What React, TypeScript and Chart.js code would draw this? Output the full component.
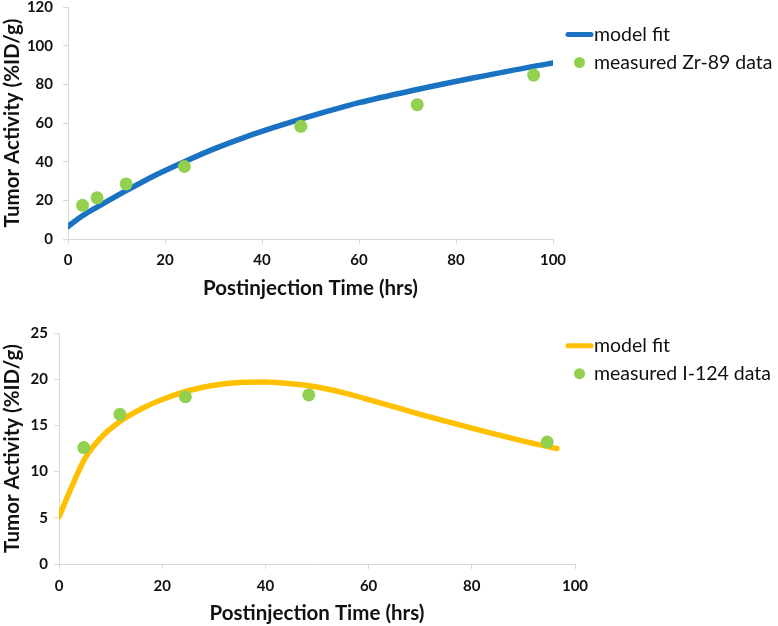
import React, { useEffect, useRef } from 'react';
import { Chart, registerables } from 'chart.js';

Chart.register(...registerables);

// ---------- data ----------
const X_TICKS = [0, 20, 40, 60, 80, 100];

const ZR_Y_TICKS = [0, 20, 40, 60, 80, 100, 120];
const ZR_TIMES = [3, 6, 12, 24, 48, 72, 96];
const ZR_MEASURED = [17.4, 21.3, 28.5, 37.5, 58.3, 69.5, 84.8];
const ZR_FIT_TIMES = [0, 3, 6, 12, 18, 24, 30, 36, 42, 48, 60, 72, 84, 96, 100];
const ZR_FIT_VALUES = [6.5, 12, 16.5, 25, 33, 40, 46.5, 52.2, 57.3, 62, 70.5, 77.3, 83.5, 89.3, 91];
const ZR_LEGEND = ['model fit', 'measured Zr-89 data'];

const I_Y_TICKS = [0, 5, 10, 15, 20, 25];
const I_TIMES = [4.8, 11.8, 24.5, 48.4, 94.6];
const I_MEASURED = [12.6, 16.2, 18.1, 18.3, 13.2];
const I_FIT_TIMES = [0, 2.5, 5, 8, 12, 16, 20, 25, 30, 35, 40, 45, 50, 55, 60, 70, 80, 90, 96.5];
const I_FIT_VALUES = [5.1, 8.4, 11.4, 13.6, 15.5, 16.8, 17.8, 18.75, 19.35, 19.65, 19.7, 19.5, 19.15, 18.55, 17.8, 16.2, 14.7, 13.3, 12.5];
const I_LEGEND = ['model fit', 'measured I-124 data'];

const X_TITLE = 'Postinjection Time (hrs)';
const Y_TITLE = 'Tumor Activity (%ID/g)';

// ---------- styles ----------
const GREEN = '#92D050';
const BLUE = '#1A72C2';
const GOLD = '#FFC000';
const AXIS = '#D9D9D9';
const FONT = 'Lato, "Open Sans", sans-serif';

const legendPlugin = {
  id: 'sideLegend',
  afterDraw(chart: any, _args: any, opts: any) {
    const ctx = chart.ctx as CanvasRenderingContext2D;
    const { x, y, gap, lineColor, dotColor, labels } = opts;
    ctx.save();
    ctx.strokeStyle = lineColor;
    ctx.lineWidth = 5;
    ctx.lineCap = 'round';
    ctx.beginPath();
    ctx.moveTo(x + 2, y);
    ctx.lineTo(x + 25, y);
    ctx.stroke();
    ctx.fillStyle = dotColor;
    ctx.beginPath();
    ctx.arc(x + 13.5, y + gap, 5.5, 0, Math.PI * 2);
    ctx.fill();
    ctx.fillStyle = '#111';
    ctx.font = `19.5px ${FONT}`;
    ctx.textBaseline = 'alphabetic';
    ctx.textAlign = 'left';
    ctx.fillText(labels[0], x + 28, y + 6);
    ctx.fillText(labels[1], x + 28, y + gap + 6);
    ctx.restore();
  },
};

type PanelProps = {
  width: number;
  height: number;
  top: number;
  fitT: number[];
  fitV: number[];
  ptT: number[];
  ptV: number[];
  yTicks: number[];
  lineColor: string;
  legend: string[];
  area: { left: number; right: number; top: number; bottom: number };
  legendPos: { x: number; y: number };
  xTitlePad: number;
  yTitlePad: number;
  yTickPad: number;
  xTickPad: number;
};

function Panel(p: PanelProps) {
  const ref = useRef<HTMLCanvasElement | null>(null);
  useEffect(() => {
    if (!ref.current) return;
    const yMin = p.yTicks[0];
    const yMax = p.yTicks[p.yTicks.length - 1];
    const chart = new Chart(ref.current, {
      type: 'line',
      data: {
        datasets: [
          {
            label: p.legend[1],
            type: 'scatter',
            data: p.ptT.map((t, i) => ({ x: t, y: p.ptV[i] })),
            backgroundColor: GREEN,
            borderColor: GREEN,
            pointRadius: 6.5,
            pointBorderWidth: 0,
            order: 0,
          } as any,
          {
            label: p.legend[0],
            type: 'line',
            data: p.fitT.map((t, i) => ({ x: t, y: p.fitV[i] })),
            borderColor: p.lineColor,
            borderWidth: 5.5,
            pointRadius: 0,
            cubicInterpolationMode: 'monotone',
            borderCapStyle: 'round',
            fill: false,
            order: 1,
          } as any,
        ],
      },
      options: {
        responsive: false,
        animation: false,
        events: [],
        layout: {
          padding: {
            left: 0,
            top: p.area.top,
            right: p.width - p.area.right,
            bottom: 0,
          },
        },
        plugins: {
          legend: { display: false },
          tooltip: { enabled: false },
          sideLegend: {
            x: p.legendPos.x,
            y: p.legendPos.y,
            gap: 28,
            lineColor: p.lineColor,
            dotColor: GREEN,
            labels: p.legend,
          },
        } as any,
        scales: {
          x: {
            type: 'linear',
            min: X_TICKS[0],
            max: X_TICKS[X_TICKS.length - 1],
            afterBuildTicks: (s: any) => {
              s.ticks = X_TICKS.map((v) => ({ value: v }));
            },
            afterFit: (s: any) => {
              s.height = p.height - p.area.bottom;
              s.paddingLeft = 0;
              s.paddingRight = 0;
            },
            grid: {
              display: true,
              drawOnChartArea: false,
              drawTicks: true,
              tickLength: 5,
              color: AXIS,
            },
            border: { color: AXIS, width: 1 },
            ticks: {
              padding: p.xTickPad,
              color: '#111',
              font: { family: FONT, size: 15, weight: 'bold' },
              maxRotation: 0,
            },
            title: {
              display: true,
              text: X_TITLE,
              color: '#111',
              font: { family: FONT, size: 20.5, weight: 'bold' },
              padding: { top: 0, bottom: p.xTitlePad },
            },
          },
          y: {
            type: 'linear',
            min: yMin,
            max: yMax,
            afterBuildTicks: (s: any) => {
              s.ticks = p.yTicks.map((v) => ({ value: v }));
            },
            afterFit: (s: any) => {
              s.width = p.area.left;
              s.paddingTop = 0;
              s.paddingBottom = 0;
            },
            grid: {
              display: true,
              drawOnChartArea: false,
              drawTicks: true,
              tickLength: 5,
              color: AXIS,
            },
            border: { color: AXIS, width: 1 },
            ticks: {
              padding: p.yTickPad,
              color: '#111',
              font: { family: FONT, size: 15, weight: 'bold' },
            },
            title: {
              display: true,
              text: Y_TITLE,
              color: '#111',
              font: { family: FONT, size: 20.5, weight: 'bold' },
              padding: { top: p.yTitlePad, bottom: 0 },
            },
          },
        },
      },
      plugins: [legendPlugin],
    });
    return () => chart.destroy();
  }, []);
  return (
    <canvas
      ref={ref}
      width={p.width}
      height={p.height}
      style={{ position: 'absolute', left: 0, top: p.top, width: p.width, height: p.height }}
    />
  );
}

export default function App() {
  return (
    <div
      style={{
        position: 'fixed',
        left: 0,
        top: 0,
        width: 778,
        height: 626,
        background: '#fff',
        overflow: 'hidden',
      }}
    >
      <Panel
        width={778}
        height={310}
        top={0}
        fitT={ZR_FIT_TIMES}
        fitV={ZR_FIT_VALUES}
        ptT={ZR_TIMES}
        ptV={ZR_MEASURED}
        yTicks={ZR_Y_TICKS}
        lineColor={BLUE}
        legend={ZR_LEGEND}
        area={{ left: 68, right: 553, top: 7, bottom: 239 }}
        legendPos={{ x: 566, y: 34.5 }}
        xTitlePad={9.5}
        yTitlePad={0.5}
        yTickPad={10}
        xTickPad={7}
      />
      <Panel
        width={778}
        height={316}
        top={310}
        fitT={I_FIT_TIMES}
        fitV={I_FIT_VALUES}
        ptT={I_TIMES}
        ptV={I_MEASURED}
        yTicks={I_Y_TICKS}
        lineColor={GOLD}
        legend={I_LEGEND}
        area={{ left: 59, right: 575, top: 23, bottom: 254 }}
        legendPos={{ x: 566, y: 35.7 }}
        xTitlePad={0.5}
        yTitlePad={0}
        yTickPad={6}
        xTickPad={8}
      />
    </div>
  );
}
